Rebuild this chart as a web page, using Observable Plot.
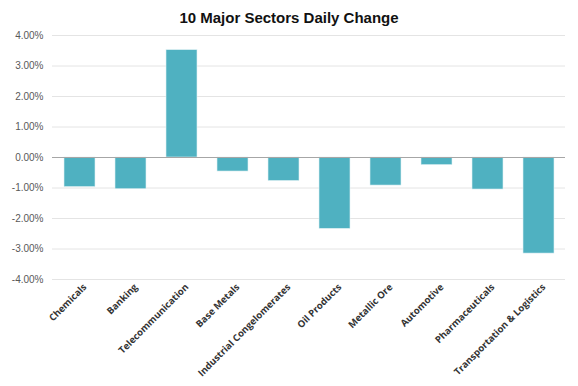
<!DOCTYPE html>
<html>
<head>
<meta charset="utf-8">
<script src="https://cdn.jsdelivr.net/npm/d3@7"></script>
<script src="https://cdn.jsdelivr.net/npm/@observablehq/plot@0.6"></script>
<style>
  body { margin: 0; background: #fff; }
  #title { height: 28px; width: 578px; text-align: center; font: bold 15px "Liberation Sans", Arial, sans-serif; line-height: 36px; color: #111; }
  svg { display: block; }
</style>
</head>
<body>
<div id="title">10 Major Sectors Daily Change</div>
<div id="chart"></div>
<script>
const sectors = ["Chemicals", "Banking", "Telecommunication", "Base Metals", "Industrial Congelomerates", "Oil Products", "Metallic Ore", "Automotive", "Pharmaceuticals", "Transportation & Logistics"];
const changes = [-0.97, -1.04, 3.52, -0.46, -0.77, -2.34, -0.92, -0.25, -1.05, -3.15];
const yTicks = [-4, -3, -2, -1, 0, 1, 2, 3, 4];

const data = sectors.map((s, i) => ({sector: s, change: changes[i]}));

const chart = Plot.plot({
  width: 578,
  height: 358,
  marginTop: 7,
  marginBottom: 107,
  marginLeft: 52,
  marginRight: 13,
  style: {background: "#fff", overflow: "visible"},
  x: {domain: sectors, paddingInner: 0.4, paddingOuter: 0.2, label: null},
  y: {domain: [-4, 4], label: null},
  marks: [
    Plot.ruleY(yTicks.filter(d => d !== 0), {stroke: "#e4e4e4", strokeWidth: 1}),
    Plot.barY(data, {x: "sector", y: "change", fill: "#4FB1C1", stroke: "#dff0f3", strokeWidth: 0.6}),
    Plot.ruleY([0], {stroke: "#a6a6a6", strokeWidth: 1}),
    Plot.axisY(yTicks, {
      tickSize: 0, tickPadding: 9, label: null,
      tickFormat: d => d.toFixed(2) + "%",
      fontSize: 10, fill: "#595959",
      fontFamily: "'Liberation Sans', Arial, sans-serif"
    }),
    Plot.axisX({
      tickSize: 0, tickPadding: 6, tickRotate: -45, label: null,
      fontSize: 9.5, fontWeight: "bold", fill: "#333",
      fontFamily: "'Liberation Sans Narrow', 'Open Sans', sans-serif",
      dx: 5
    })
  ]
});
document.getElementById("chart").appendChild(chart);
</script>
</body>
</html>
